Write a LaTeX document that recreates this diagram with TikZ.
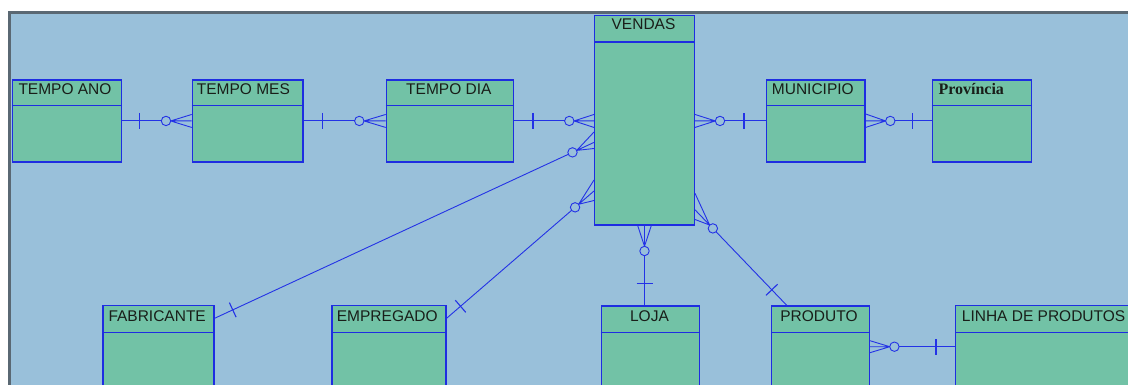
\documentclass[tikz,border=0pt]{standalone}
\usepackage{fontspec}
\setmainfont{Liberation Sans}
\newfontfamily\provfont{Liberation Serif}
\usetikzlibrary{calc}

\definecolor{paper}{RGB}{153,192,218}
\definecolor{entfill}{RGB}{114,194,166}
\definecolor{entline}{RGB}{30,45,225}
\definecolor{linkc}{RGB}{35,50,230}
\definecolor{framec}{RGB}{90,104,115}
\definecolor{ink}{RGB}{25,30,25}

\tikzset{
  entity/.style={draw=entline, line width=1.3pt, fill=entfill, inner sep=0pt, anchor=north west},
  hdrline/.style={draw=entline, line width=1.3pt},
  title/.style={font=\fontsize{15.5}{16}\selectfont, text=ink, inner sep=0pt},
  link/.style={draw=linkc, line width=0.9pt},
  onebar/.style={draw=linkc, line width=1.1pt},
}

% one-to-many link: #1 one end, #2 many end, #3/#4 outer toes of the crow's foot,
% #5 distance of the bar from #1, #6 distance of the circle from #2, #7 bar style
\newcommand\erconn[7]{%
  \coordinate (erC) at ($(#2)!#6!(#1)$);
  \coordinate (erB) at ($(#1)!#5!(#2)$);
  \coordinate (erT) at ($(erC)!4.7pt!(#2)$);
  \draw[link] (#1) -- ($(erC)!4.7pt!(#1)$);
  \draw[link] (erC) circle[radius=4.7pt];
  \draw[onebar,#7] ($(erB)!8pt!90:(#2)$) -- ($(erB)!8pt!-90:(#2)$);
  \draw[link] (erT) -- (#2) (erT) -- (#3) (erT) -- (#4);
}

% header rule of an entity box
\newcommand\hdr[2]{\draw[hdrline] ($(#1.north west)+(0,#2)$) -- ($(#1.north east)+(0,#2)$);}

\begin{document}
\begin{tikzpicture}[x=1pt, y=-1pt]
  \useasboundingbox (0,0) rectangle (1128,385);
  \clip (0,0) rectangle (1128,385);
  \fill[white] (0,0) rectangle (1128,385);
  \draw[framec, line width=3.3pt, fill=paper] (9.5,12.4) rectangle (1140,400);

  % entities, top row
  \node[entity, minimum width=109pt,   minimum height=82pt]    (ano)    at (11.7,79.3)  {};
  \node[entity, minimum width=110.6pt, minimum height=82pt]    (mes)    at (191.7,79.3) {};
  \node[entity, minimum width=127pt,   minimum height=82pt]    (dia)    at (385.7,79.3) {};
  \node[entity, minimum width=99.7pt,  minimum height=209.6pt] (vendas) at (594,14.7)   {};
  \node[entity, minimum width=98.3pt,  minimum height=82pt]    (mun)    at (766,79.3)   {};
  \node[entity, minimum width=98.8pt,  minimum height=82pt]    (prov)   at (931.7,79.3) {};
  % entities, bottom row
  \node[entity, minimum width=111pt,   minimum height=110pt]   (fab)    at (102.3,305)  {};
  \node[entity, minimum width=114pt,   minimum height=110pt]   (emp)    at (331.3,305)  {};
  \node[entity, minimum width=98.3pt,  minimum height=110pt]   (loja)   at (600.7,305.3){};
  \node[entity, minimum width=97.7pt,  minimum height=110pt]   (prod)   at (771,305.3)  {};
  \node[entity, minimum width=200pt,   minimum height=110pt]   (linha)  at (955,305)    {};

  \hdr{ano}{26.4} \hdr{mes}{26.4} \hdr{dia}{26.4} \hdr{vendas}{27.3}
  \hdr{mun}{26} \hdr{prov}{26}
  \hdr{fab}{27.3} \hdr{emp}{27.3} \hdr{loja}{27.3} \hdr{prod}{27.3} \hdr{linha}{27.3}

  % titles
  \node[title, anchor=base west] (ano-t)    at ($(ano.north west)+(6.6,15.7)$)  {TEMPO ANO};
  \node[title, anchor=base west] (mes-t)    at ($(mes.north west)+(5,15.7)$)    {TEMPO MES};
  \node[title, anchor=base]      (dia-t)    at ($(dia.north)+(-1,15.7)$)        {TEMPO DIA};
  \node[title, anchor=base]      (vendas-t) at ($(vendas.north)+(-1,14.6)$)     {VENDAS};
  \node[title, anchor=base west] (mun-t)    at ($(mun.north west)+(5.7,15.7)$)  {MUNICIPIO};
  \node[title, anchor=base west, font={\provfont\bfseries\fontsize{16}{17}\selectfont}]
                                 (prov-t)   at ($(prov.north west)+(6.6,15)$)   {Província};
  \node[title, anchor=base west] (fab-t)    at ($(fab.north west)+(6,16)$)      {FABRICANTE};
  \node[title, anchor=base west] (emp-t)    at ($(emp.north west)+(5.4,16)$)    {EMPREGADO};
  \node[title, anchor=base]      (loja-t)   at ($(loja.north)+(-1,16)$)         {LOJA};
  \node[title, anchor=base]      (prod-t)   at ($(prod.north)+(-1.5,16)$)       {PRODUTO};
  \node[title, anchor=base west] (linha-t)  at ($(linha.north west)+(6.7,16)$)  {LINHA DE PRODUTOS};

  % time hierarchy
  \erconn{ano.east}{mes.west}{$(mes.west)+(0,-6.5)$}{$(mes.west)+(0,6.5)$}{17.6pt}{25.7pt}{}
  \erconn{mes.east}{dia.west}{$(dia.west)+(0,-6.5)$}{$(dia.west)+(0,6.5)$}{18.7pt}{26.4pt}{}
  \coordinate (v-dia) at (dia.east -| vendas.west);
  \erconn{dia.east}{v-dia}{$(v-dia)+(0,-6.5)$}{$(v-dia)+(0,6.5)$}{19pt}{24.7pt}{}

  % geography
  \coordinate (v-mun) at (mun.west -| vendas.east);
  \erconn{mun.west}{v-mun}{$(v-mun)+(0,-6.5)$}{$(v-mun)+(0,6.5)$}{21.7pt}{25pt}{line width=2pt}
  \erconn{prov.west}{mun.east}{$(mun.east)+(0,-7)$}{$(mun.east)+(0,6.5)$}{19.4pt}{24.7pt}{}

  % fabricante and empregado
  \coordinate (fab-o) at ($(fab.north east)+(0,13.3)$);
  \coordinate (v-fab) at ($(vendas.north west)+(0,127.7)$);
  \erconn{fab-o}{v-fab}{$(vendas.north west)+(0,117.3)$}{$(vendas.north west)+(0,133.8)$}{20pt}{23.7pt}{}
  \coordinate (emp-o) at ($(emp.north east)+(0,13.3)$);
  \coordinate (v-emp) at ($(vendas.north west)+(0,176.3)$);
  \erconn{emp-o}{v-emp}{$(vendas.north west)+(0,165.3)$}{$(vendas.north west)+(0,185.8)$}{18.4pt}{25pt}{}

  % loja
  \coordinate (loja-o) at (vendas.south |- loja.north);
  \erconn{loja-o}{vendas.south}{$(vendas.south)+(-6.8,0)$}{$(vendas.south)+(6.8,0)$}{22pt}{25.4pt}{}

  % produto
  \coordinate (prod-o) at ($(prod.north west)+(15.7,0)$);
  \coordinate (v-prod) at ($(vendas.north east)+(0,195.1)$);
  \erconn{prod-o}{v-prod}{$(vendas.north east)+(0,178.6)$}{$(vendas.north east)+(0,204.8)$}{21.5pt}{25.8pt}{}

  % linha de produtos
  \coordinate (linha-o) at ($(linha.north west)+(0,41.7)$);
  \coordinate (p-linha) at (linha-o -| prod.east);
  \erconn{linha-o}{p-linha}{$(p-linha)+(0,-6)$}{$(p-linha)+(0,6)$}{19pt}{24.4pt}{}
\end{tikzpicture}
\end{document}
